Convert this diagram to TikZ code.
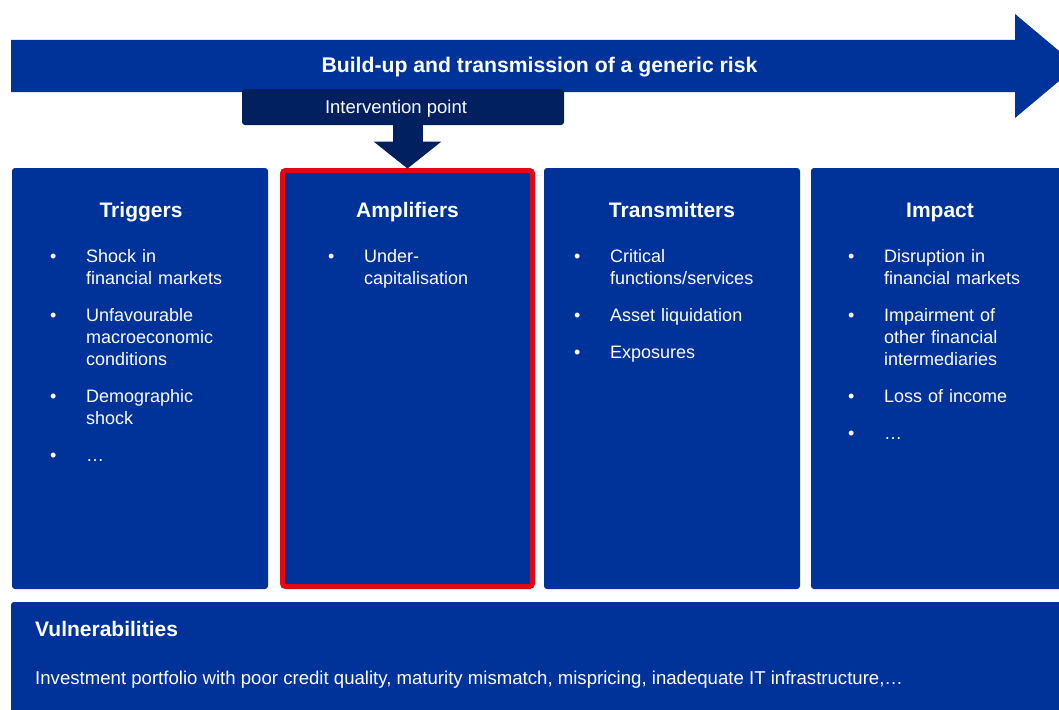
\documentclass[tikz,border=0pt]{standalone}
\usepackage{fontspec}
\setmainfont{Liberation Sans}
\usetikzlibrary{arrows.meta}
\definecolor{riskblue}{RGB}{0,51,153}
\definecolor{risknavy}{RGB}{0,32,96}
\definecolor{riskred}{RGB}{225,10,20}
\newcommand{\riskitem}[1]{\par\hangindent=36pt\hangafter=1\noindent\makebox[36pt][l]{\textbullet}#1\par}

\begin{document}
\begin{tikzpicture}[x=1pt,y=-1pt]
\tikzstyle{riskbox}=[fill=riskblue, rounded corners=3pt, inner sep=0pt, outer sep=0pt, anchor=north west]
\tikzstyle{boxhead}=[text=white, font=\fontsize{21}{25}\selectfont\bfseries, anchor=base, inner sep=0pt]
\tikzstyle{boxlist}=[text=white, font=\fontsize{18}{22}\selectfont, anchor=base west, inner sep=0pt, text width=220pt]
\clip (0,0) rectangle (1059,709);
\fill[riskblue] (11,40) -- (1015,40) -- (1015,14) -- (1077,66) -- (1015,118) -- (1015,92) -- (11,92) -- cycle;
\node[boxhead, font=\fontsize{21.2}{25}\selectfont\bfseries] (risk) at (539.5,73) {Build-up and transmission of a generic risk};
\node[fill=risknavy, rounded corners=3pt, inner sep=0pt, outer sep=0pt, anchor=north west,
  minimum width=322pt, minimum height=36pt] (interv) at (242,89) {};
\node[text=white, font=\fontsize{18.5}{22}\selectfont, anchor=base, inner sep=0pt] (intervtext) at (396,113) {Intervention point};
\node[riskbox, minimum width=256pt, minimum height=421pt] (trig) at (12,168) {};
\node[riskbox, draw=riskred, line width=5pt, minimum width=250pt, minimum height=416pt] (ampl) at (282.5,170.5) {};
\node[riskbox, minimum width=256pt, minimum height=421pt] (trans) at (544,168) {};
\node[riskbox, minimum width=256pt, minimum height=421pt] (impact) at (811,168) {};
\node[riskbox, minimum width=1056pt, minimum height=120pt] (vuln) at (11,602) {};
\draw[risknavy, line width=30pt, shorten >=2pt, -{Triangle[width=68pt,length=27pt,line width=0pt]}]
  (ampl.north |- interv.south) -- (ampl.north);
\node[boxhead] (trighead) at (141,217) {Triggers};
\node[boxhead] (amplhead) at (407.5,217) {Amplifiers};
\node[boxhead] (transhead) at (672,217) {Transmitters};
\node[boxhead] (impacthead) at (940,217) {Impact};
\node[boxlist] (triglist) at (50,225) {\setlength{\parskip}{15pt}%
  \riskitem{Shock in\newline financial markets}
  \riskitem{Unfavourable\newline macroeconomic\newline conditions}
  \riskitem{Demographic\newline shock}
  \riskitem{…}};
\node[boxlist] (ampllist) at (328,225) {\setlength{\parskip}{15pt}%
  \riskitem{Under-\newline capitalisation}};
\node[boxlist] (translist) at (574,225) {\setlength{\parskip}{15pt}%
  \riskitem{Critical\newline functions/services}
  \riskitem{Asset liquidation}
  \riskitem{Exposures}};
\node[boxlist] (impactlist) at (848,225) {\setlength{\parskip}{15pt}%
  \riskitem{Disruption in\newline financial markets}
  \riskitem{Impairment of\newline other financial\newline intermediaries}
  \riskitem{Loss of income}
  \riskitem{…}};
\node[boxhead, anchor=base west] (vulnhead) at (35,636) {Vulnerabilities};
\node[text=white, font=\fontsize{18.6}{22}\selectfont, anchor=base west, inner sep=0pt] (vulntext) at (35,684)
  {Investment portfolio with poor credit quality, maturity mismatch, mispricing, inadequate IT infrastructure,…};
\end{tikzpicture}
\end{document}
